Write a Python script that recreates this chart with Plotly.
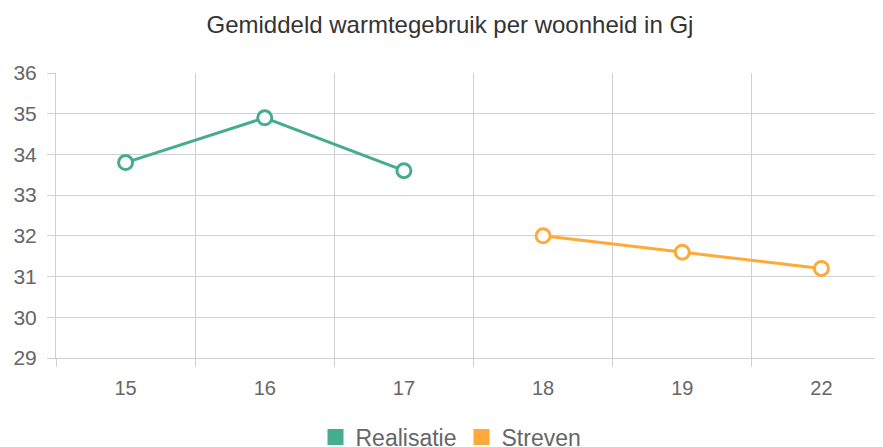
import plotly.graph_objects as go

categories = ["15", "16", "17", "18", "19", "22"]
realisatie = [33.8, 34.9, 33.6, None, None, None]
streven = [None, None, None, 32.0, 31.6, 31.2]

title_text = "Gemiddeld warmtegebruik per woonheid in Gj"
series_names = ["Realisatie", "Streven"]
colors = ["#45AD8E", "#FFA93A"]
grid = "#d0d0d0"
font_family = "Liberation Sans, Arial, sans-serif"

# page body has an 8px margin, so layout coordinates are offset by 8px
W, H = 883, 447
OFF = 8

fig = go.Figure()
for name, vals, col in zip(series_names, [realisatie, streven], colors):
    fig.add_trace(go.Scatter(
        x=categories, y=vals, mode="lines+markers", name=name,
        line=dict(color=col, width=3),
        marker=dict(symbol="circle", size=14, color="white",
                    line=dict(color=col, width=3)),
        showlegend=False, connectgaps=False,
    ))
    fig.add_trace(go.Scatter(
        x=[None], y=[None], mode="markers", name=name,
        marker=dict(symbol="square", size=16, color=col),
        showlegend=True,
    ))

fig.update_layout(
    width=W, height=H,
    margin=dict(l=56 - OFF, r=0, t=73 - OFF, b=H - (358 - OFF)),
    paper_bgcolor="white", plot_bgcolor="white",
    font=dict(family=font_family, color="#666666"),
    title=dict(text=title_text, x=(450 - OFF) / W, xanchor="center",
               y=1 - (25 - OFF) / H, yanchor="middle", yref="container",
               font=dict(size=24, color="#333333", family=font_family)),
    showlegend=True,
    legend=dict(orientation="h", xref="container", x=(451 - OFF) / W,
                xanchor="center", yref="container", y=1 - (437 - OFF) / H,
                yanchor="middle", font=dict(size=23, color="#666666"),
                itemwidth=30, tracegroupgap=0),
)
fig.update_xaxes(
    type="category", range=[-0.5, 5.5], tickson="boundaries",
    showgrid=True, gridcolor=grid, gridwidth=1,
    ticks="outside", ticklen=8, tickcolor=grid, tickwidth=1,
    showline=True, linecolor=grid, linewidth=1,
    tickfont=dict(size=20, color="#666666"), ticklabelstandoff=12,
    zeroline=False, fixedrange=True, automargin=False,
)
fig.update_yaxes(
    range=[29, 36], dtick=1, tick0=29,
    showgrid=True, gridcolor=grid, gridwidth=1,
    ticks="outside", ticklen=8, tickcolor=grid, tickwidth=1,
    showline=True, linecolor=grid, linewidth=1,
    tickfont=dict(size=21, color="#666666"), ticklabelstandoff=6,
    zeroline=False, fixedrange=True, automargin=False,
)

fig.write_html("out.html")
